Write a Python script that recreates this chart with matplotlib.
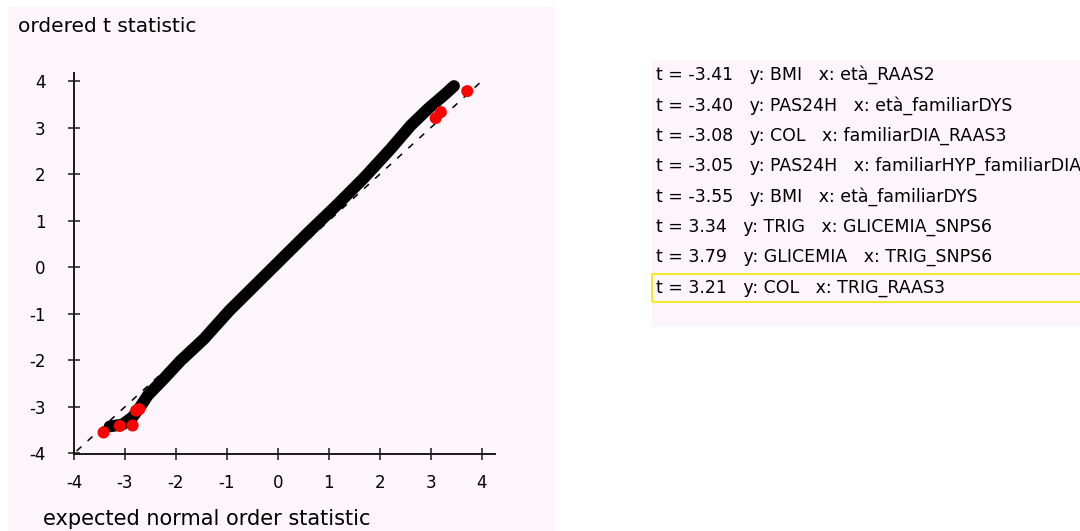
import matplotlib
matplotlib.use("Agg")
import matplotlib.pyplot as plt
from matplotlib.patches import Rectangle

plt.rcParams['font.family'] = ['DejaVu Sans']
plt.rcParams['axes.unicode_minus'] = False

# ordered t statistics against expected normal order statistics (band traced along the cloud)
band_x = [-3.30, -3.05, -2.85, -2.70, -2.55, -2.24, -1.91, -1.45, -0.95, 0.0, 0.6, 1.17, 1.69, 2.21, 2.61, 2.94, 3.29, 3.46]
band_y = [-3.42, -3.38, -3.22, -3.00, -2.75, -2.40, -2.01, -1.54, -0.93, 0.1, 0.75, 1.35, 1.92, 2.54, 3.05, 3.40, 3.73, 3.90]

# highlighted tests
t_vals = [-3.41, -3.40, -3.08, -3.05, -3.55, 3.34, 3.79, 3.21]
t_expected = [-3.10, -2.85, -2.78, -2.72, -3.42, 3.20, 3.72, 3.10]
y_vars = ['BMI', 'PAS24H', 'COL', 'PAS24H', 'BMI', 'TRIG', 'GLICEMIA', 'COL']
x_vars = ['età_RAAS2', 'età_familiarDYS', 'familiarDIA_RAAS3', 'familiarHYP_familiarDIA',
          'età_familiarDYS', 'GLICEMIA_SNPS6', 'TRIG_SNPS6', 'TRIG_RAAS3']

ref_line = [-3.95, 3.97]

W, H = 1080, 531
bg = '#fcf5fc'
fig = plt.figure(figsize=(W / 100, H / 100), dpi=100)
fig.patch.set_facecolor('white')

# panel backgrounds (pixel boxes converted to figure fractions)
def px_rect(x0, y0, x1, y1, **kw):
    return Rectangle((x0 / W, 1 - y1 / H), (x1 - x0) / W, (y1 - y0) / H,
                     transform=fig.transFigure, **kw)

fig.patches.append(px_rect(8, 7, 555, 531, facecolor=bg, edgecolor='none', zorder=-2))
fig.patches.append(px_rect(652, 60, 1080, 327, facecolor=bg, edgecolor='none', zorder=-2))

ax = fig.add_axes([74 / W, 1 - 454.3 / H, 421 / W, 381.3 / H])
ax.set_facecolor('none')
ax.set_xlim(-4, 4.265)
ax.set_ylim(-4.02, 4.18)

ax.plot(ref_line, ref_line, color='black', lw=1.1, dashes=(4.3, 5.5), zorder=1)
ax.plot(band_x, band_y, color='black', lw=8.5, solid_capstyle='round', solid_joinstyle='round', zorder=2)
ax.scatter(t_expected, t_vals, s=75, color='#ff0000', edgecolors='none', zorder=3)

for s in ['top', 'right']:
    ax.spines[s].set_visible(False)
for s in ['left', 'bottom']:
    ax.spines[s].set_linewidth(1.4)
    ax.spines[s].set_color('#1a1a1a')

ax.set_xticks(range(-4, 5))
ax.set_yticks(range(-4, 5))
ax.tick_params(direction='inout', length=9, width=1.1, color='#1a1a1a', labelsize=12)
ax.tick_params(axis='x', pad=10)
ax.tick_params(axis='y', pad=16)

fig.text(18 / W, 1 - 27 / H, 'ordered t statistic', fontsize=14.5, va='center', ha='left')
fig.text(43 / W, 1 - 519 / H, 'expected normal order statistic', fontsize=15, va='center', ha='left')

# list of the highlighted tests
for i in range(len(t_vals)):
    row = 't = %.2f   y: %s   x: %s' % (t_vals[i], y_vars[i], x_vars[i])
    fig.text(656 / W, 1 - (75 + 30.4 * i) / H, row, fontsize=12.5, va='center', ha='left')

fig.patches.append(px_rect(652, 274, 1085, 302, facecolor='none', edgecolor='#f2e600', lw=1.2, zorder=5))

fig.savefig('out.png', dpi=100, facecolor=fig.get_facecolor())
